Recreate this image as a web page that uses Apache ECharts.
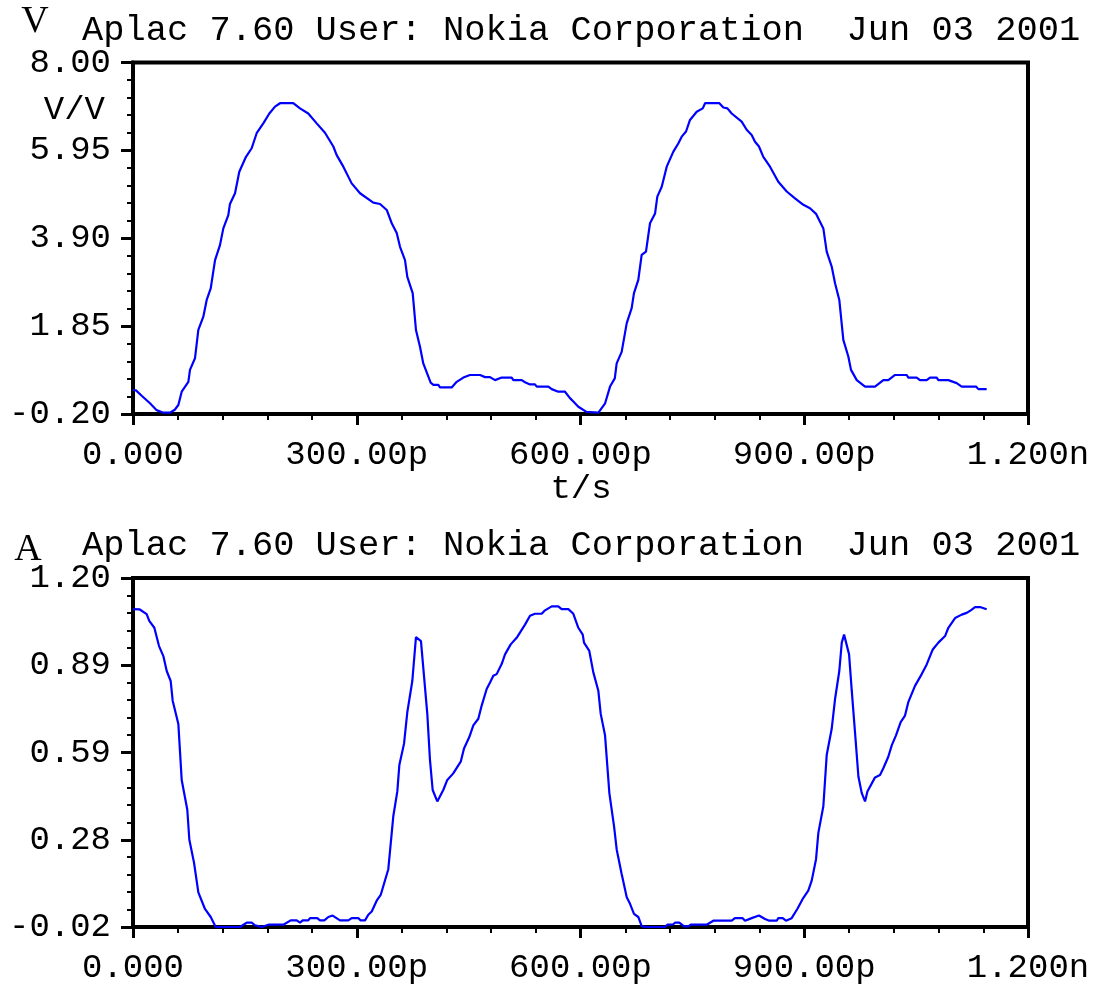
<!DOCTYPE html>
<html><head><meta charset="UTF-8">
<title>Aplac</title>
<script src="https://cdn.jsdelivr.net/npm/echarts@6/dist/echarts.min.js"></script>
<style>
html, body { margin: 0; padding: 0; background: #fff; }
#g1 { width: 1098px; height: 985px; }
</style>
</head>
<body>
<div id="g1"></div>
<script type="text/javascript">
// time axis (ps) ticks, shared by both plots
var xTickValues = [0, 300, 600, 900, 1200];
var xTickLabels = ['0.000', '300.00p', '600.00p', '900.00p', '1.200n'];

// upper plot: V/V
var vTickValues = [-0.2, 1.85, 3.9, 5.95, 8.0];
var vTickLabels = ['-0.20', '1.85', '3.90', '5.95', '8.00'];
var vTime = [0, 4, 12, 22.8, 31.7, 40.7, 49.6, 56, 60.8, 65.3, 74.2, 76.4, 83.1, 87.6, 94.3, 98.8, 104.2, 110, 116.6, 121.1,
  127.8, 130, 136.8, 142.5, 151.5, 159.1, 165.8, 174.7, 182.8, 190.4, 197.1, 214.9, 223.9, 235, 246.3, 257.4, 268.6, 273.1, 282, 293.2,
  304.4, 322.2, 331.2, 340.2, 346.9, 353.6, 358, 364.7, 367.8, 375, 379.4, 384.8, 389.2, 399.1, 402.7, 409.4, 411.6, 427.3, 434, 442.9,
  451.8, 465.3, 472, 478.7, 485.4, 494.3, 507.7, 510, 521.2, 525.6, 532.3, 539, 541.3, 556.9, 561.4, 570.2, 579.2, 585.9, 590.4, 597.1,
  608, 624, 633, 639.6, 646, 648.5, 655.2, 662, 668.6, 671.7, 677.5, 682, 687.8, 693.2, 700, 703, 708.9, 715.6, 724.5, 731.1,
  735.7, 741.5, 746.8, 755.8, 763.9, 767, 786.2, 791.5, 797, 802.7, 816.1, 822.8, 829.5, 834, 839.3, 845.1, 854.1, 865.2, 876.5, 887.6,
  898.8, 907.7, 915.8, 925.6, 930.1, 936.8, 941.3, 947, 952.4, 959.1, 962.7, 970.4, 981.5, 994.9, 1006, 1012.7, 1021.7, 1037.4, 1039.5, 1050.7,
  1055.2, 1064.2, 1068.6, 1077.6, 1079.8, 1093.2, 1104.4, 1111.1, 1130.3, 1133.4, 1144.6];
var vValues = [0.36, 0.35, 0.22, 0.05, -0.11, -0.17, -0.17, -0.1, 0.01, 0.32, 0.55, 0.83, 1.10, 1.76, 2.07, 2.46, 2.73, 3.39, 3.74, 4.13,
  4.44, 4.70, 4.95, 5.45, 5.80, 6.00, 6.35, 6.58, 6.81, 6.97, 7.05, 7.05, 6.93, 6.81, 6.58, 6.36, 6.04, 5.84, 5.57, 5.18,
  4.95, 4.73, 4.70, 4.56, 4.25, 4.02, 3.70, 3.39, 3.00, 2.62, 1.76, 1.37, 0.98, 0.53, 0.48, 0.48, 0.42, 0.42, 0.55, 0.65,
  0.71, 0.71, 0.66, 0.66, 0.59, 0.65, 0.65, 0.59, 0.59, 0.54, 0.49, 0.49, 0.44, 0.44, 0.38, 0.32, 0.32, 0.17, 0.09, -0.03,
  -0.15, -0.17, 0.05, 0.44, 0.63, 0.98, 1.25, 1.92, 2.27, 2.62, 2.93, 3.51, 3.59, 4.25, 4.48, 4.87, 5.10, 5.57, 5.92, 6.11,
  6.27, 6.39, 6.66, 6.85, 6.93, 7.05, 7.05, 6.95, 6.93, 6.81, 6.62, 6.43, 6.31, 6.15, 6.04, 5.80, 5.57, 5.22, 4.99, 4.83,
  4.68, 4.60, 4.47, 4.13, 3.59, 3.24, 2.85, 2.46, 1.53, 1.14, 0.83, 0.59, 0.44, 0.44, 0.59, 0.59, 0.71, 0.71, 0.65, 0.65,
  0.59, 0.59, 0.65, 0.65, 0.59, 0.59, 0.52, 0.44, 0.44, 0.38, 0.38];

// lower plot: A
var aTickValues = [-0.02, 0.285, 0.59, 0.895, 1.2];
var aTickLabels = ['-0.02', '0.28', '0.59', '0.89', '1.20'];
var aTime = [0, 9.1, 18.3, 21.8, 28.6, 34.9, 40.7, 45.2, 50.5, 53.2, 60.8, 65.3, 72.8, 75.5, 81.8, 87.6, 96.5, 104.2, 110.9, 143.5,
  152.4, 159.1, 163.6, 172.6, 181.4, 201.6, 211.4, 219.5, 223.9, 227.5, 235, 237.3, 247.1, 250.7, 256.5, 261.9, 267.7, 277.5, 288.7, 293.2,
  302.1, 305.3, 311.1, 315.5, 320.1, 326.7, 332.1, 342.3, 349, 354.4, 357.1, 363.4, 367.8, 374.5, 379.4, 386.1, 394.6, 398.2, 401.8, 408,
  416, 421.4, 429.4, 439.4, 443.8, 450.9, 456.3, 463, 467.5, 474.2, 478.7, 483.1, 487.6, 494.3, 498.8, 506.4, 514.4, 525.6, 532.3, 539,
  548, 552.4, 561.4, 570.2, 574.7, 583.7, 590.4, 597.1, 603, 604.7, 611.8, 617.2, 623.9, 627.1, 632.9, 638.7, 645, 648.5, 655.2, 662,
  666.4, 671.7, 677.5, 682, 686.5, 713.3, 716.4, 723.6, 726.7, 732.5, 738.8, 744.6, 747.8, 769.2, 778.1, 802.7, 807.1, 817.4, 820.6, 829.5,
  839.3, 847.4, 853.2, 863.1, 865.2, 871.1, 875.5, 883.1, 890.7, 897.9, 905.4, 910, 915.8, 918.9, 925.6, 930.1, 936.8, 941.3, 947, 950.3,
  953.4, 960.1, 963.7, 968.2, 972.6, 977.1, 981.5, 984.7, 994.9, 1001.6, 1006, 1012.7, 1017.3, 1023, 1029.3, 1035.1, 1039.5, 1048.5, 1057.5, 1064.2,
  1069.6, 1072.3, 1079.8, 1088.8, 1093.2, 1102.2, 1111.1, 1117.8, 1123.2, 1129, 1136.6, 1144.6];
var aValues = [1.091, 1.09, 1.074, 1.05, 1.026, 0.962, 0.927, 0.875, 0.84, 0.771, 0.69, 0.494, 0.39, 0.286, 0.205, 0.101, 0.043, 0.015, -0.02, -0.02,
  -0.005, -0.005, -0.014, -0.02, -0.012, -0.012, 0.003, 0.003, -0.005, 0.003, 0.003, 0.011, 0.011, 0.003, 0.003, 0.015, 0.02, 0.003, 0.003, 0.011,
  0.011, 0.003, 0.003, 0.023, 0.034, 0.072, 0.092, 0.182, 0.367, 0.454, 0.546, 0.621, 0.731, 0.84, 0.993, 0.979, 0.725, 0.563, 0.459, 0.419,
  0.459, 0.494, 0.517, 0.558, 0.604, 0.644, 0.685, 0.708, 0.754, 0.812, 0.835, 0.858, 0.864, 0.899, 0.933, 0.968, 0.991, 1.037, 1.068, 1.075,
  1.075, 1.087, 1.101, 1.101, 1.091, 1.091, 1.075, 1.026, 1.002, 0.974, 0.945, 0.87, 0.806, 0.725, 0.65, 0.448, 0.332, 0.251, 0.165, 0.084,
  0.061, 0.026, 0.015, -0.017, -0.02, -0.02, -0.012, -0.012, -0.005, -0.005, -0.018, -0.018, -0.012, -0.012, 0.002, 0.002, 0.011, 0.011, 0.002, 0.011,
  0.02, 0.008, 0.002, 0.002, 0.011, 0.011, 0.002, 0.011, 0.043, 0.078, 0.107, 0.142, 0.217, 0.309, 0.402, 0.581, 0.673, 0.777, 0.875, 0.974,
  1.002, 0.933, 0.806, 0.656, 0.506, 0.448, 0.419, 0.454, 0.503, 0.511, 0.535, 0.575, 0.615, 0.65, 0.696, 0.719, 0.766, 0.823, 0.864, 0.898,
  0.933, 0.95, 0.974, 0.997, 1.026, 1.06, 1.072, 1.078, 1.087, 1.098, 1.098, 1.091];

var MONO = '"Liberation Mono", "Courier New", monospace';

function zip(xs, ys) {
  return xs.map(function (x, i) { return [x, ys[i]]; });
}
function minorSteps(lo, hi, n) {
  var out = [];
  var step = (hi - lo) / n;
  for (var i = 1; i < n; i++) out.push(lo + i * step);
  return out;
}
function labelOf(values, labels) {
  return function (val) {
    var best = 0;
    values.forEach(function (v, i) {
      if (Math.abs(v - val) < Math.abs(values[best] - val)) best = i;
    });
    return labels[best];
  };
}

function majorX(gridIndex) {
  return {
    type: 'value', gridIndex: gridIndex, position: 'bottom', min: 0, max: 1200,
    splitLine: {show: false},
    axisLine: {show: true, onZero: false, lineStyle: {color: '#000', width: 4}},
    axisTick: {show: true, inside: false, length: 11, customValues: xTickValues, lineStyle: {color: '#000', width: 3}},
    axisLabel: {show: true, customValues: xTickValues, formatter: labelOf(xTickValues, xTickLabels),
      margin: 24, fontFamily: MONO, fontSize: 34, color: '#000'}
  };
}
function minorX(gridIndex) {
  return {
    type: 'value', gridIndex: gridIndex, position: 'bottom', min: 0, max: 1200,
    splitLine: {show: false},
    axisLine: {show: false, onZero: false},
    axisTick: {show: true, inside: false, length: 6, customValues: minorSteps(0, 1200, 20), lineStyle: {color: '#000', width: 2}},
    axisLabel: {show: false}
  };
}
function majorY(gridIndex, lo, hi, values, labels) {
  return {
    type: 'value', gridIndex: gridIndex, position: 'left', min: lo, max: hi,
    splitLine: {show: false},
    axisLine: {show: true, onZero: false, lineStyle: {color: '#000', width: 4}},
    axisTick: {show: true, inside: false, length: 12, customValues: values, lineStyle: {color: '#000', width: 3}},
    axisLabel: {show: true, customValues: values, formatter: labelOf(values, labels),
      margin: 22, fontFamily: MONO, fontSize: 34, color: '#000'}
  };
}
function minorY(gridIndex, lo, hi) {
  return {
    type: 'value', gridIndex: gridIndex, position: 'left', min: lo, max: hi,
    splitLine: {show: false},
    axisLine: {show: false, onZero: false},
    axisTick: {show: true, inside: false, length: 6, customValues: minorSteps(lo, hi, 20), lineStyle: {color: '#000', width: 2}},
    axisLabel: {show: false}
  };
}
function txt(text, x, y, font, align) {
  return {
    type: 'text', x: x, y: y,
    style: {text: text, font: font, fill: '#000',
      textAlign: align || 'left', textVerticalAlign: 'middle'}
  };
}

var TITLE_FONT = '35.4px ' + MONO;
var SERIF_FONT = '38px "Liberation Serif", serif';

var option = {
  animation: false,
  backgroundColor: '#fff',
  grid: [
    {left: 133, top: 62.5, width: 895, height: 351.5, show: true, borderColor: '#000', borderWidth: 4},
    {left: 133, top: 578, width: 895, height: 352, show: true, borderColor: '#000', borderWidth: 4}
  ],
  xAxis: [majorX(0), minorX(0), majorX(1), minorX(1)],
  yAxis: [
    majorY(0, -0.2, 8.0, vTickValues, vTickLabels), minorY(0, -0.2, 8.0),
    majorY(1, -0.02, 1.2, aTickValues, aTickLabels), minorY(1, -0.02, 1.2)
  ],
  graphic: [
    txt('V', 35, 22, SERIF_FONT, 'center'),
    txt('Aplac 7.60 User: Nokia Corporation  Jun 03 2001', 82, 31, TITLE_FONT, 'left'),
    txt('V/V', 105, 110, '34px ' + MONO, 'right'),
    txt('t/s', 581, 489, '34px ' + MONO, 'center'),
    txt('A', 28, 550, SERIF_FONT, 'center'),
    txt('Aplac 7.60 User: Nokia Corporation  Jun 03 2001', 82, 546, TITLE_FONT, 'left')
  ],
  series: [
    {type: 'line', xAxisIndex: 0, yAxisIndex: 0, data: zip(vTime, vValues), showSymbol: false,
      lineStyle: {color: '#0000ff', width: 2.2}, itemStyle: {color: '#0000ff'}},
    {type: 'line', xAxisIndex: 2, yAxisIndex: 2, data: zip(aTime, aValues), showSymbol: false,
      lineStyle: {color: '#0000ff', width: 2.2}, itemStyle: {color: '#0000ff'}}
  ]
};

var myChart = echarts.init(document.getElementById('g1'), null, {renderer: 'canvas'});
myChart.setOption(option);
</script>
</body>
</html>
